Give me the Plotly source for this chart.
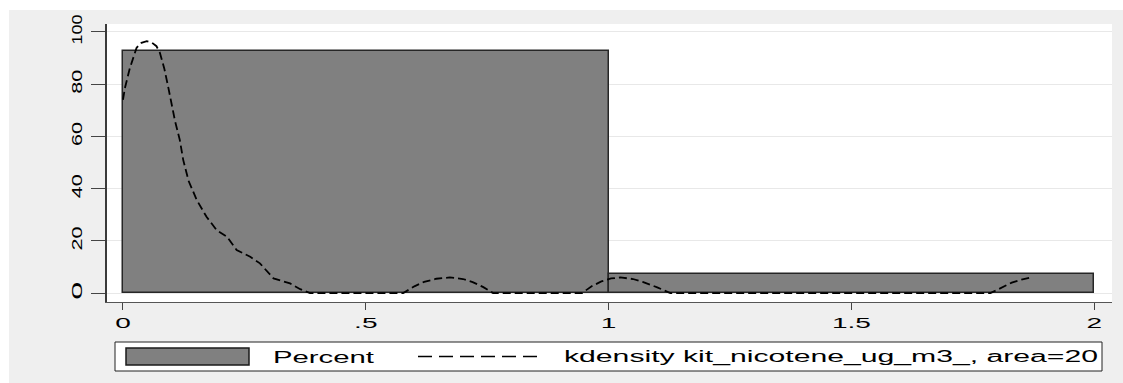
import json
import plotly.graph_objects as go

# ---- data ----
bin_edges = [0, 1, 2]
percent = [92.6, 7.4]

kde_x = [0.0, 0.004, 0.014, 0.028, 0.038, 0.049, 0.06, 0.069, 0.076, 0.085, 0.093, 0.1, 0.107,
         0.117, 0.124, 0.135, 0.152, 0.172, 0.193, 0.214, 0.234, 0.262, 0.282, 0.31, 0.344,
         0.365, 0.385,
         0.577, 0.6, 0.62, 0.645, 0.673, 0.7, 0.72, 0.742, 0.762,
         0.945, 0.965, 0.985, 1.005, 1.024, 1.05, 1.07, 1.1, 1.127,
         1.786, 1.81, 1.83, 1.85, 1.868]
kde_y = [74, 78.5, 86, 93.9, 95.8, 96.4, 95.8, 94.5, 92, 86, 79, 72.5, 66,
         58.6, 51, 43, 35.6, 29.2, 24.1, 21.6, 16.5, 13.9, 11.4, 5.6, 3.7,
         1.5, 0,
         0, 2.6, 4.3, 5.5, 6.0, 5.4, 4.2, 2.3, 0,
         0, 2.6, 4.5, 5.6, 6.0, 5.4, 4.3, 2.2, 0,
         0, 2.2, 4.0, 5.2, 5.9]

x_tick_vals = [0, 0.5, 1, 1.5, 2]
x_tick_text = ["0", ".5", "1", "1.5", "2"]
y_tick_vals = [0, 20, 40, 60, 80, 100]
y_tick_text = ["0", "20", "40", "60", "80", "100"]

legend_labels = ["Percent", "kdensity kit_nicotene_ug_m3_, area=20"]

# ---- layout geometry (pixels) ----
W, H = 1123, 383
L, R, T, B = 107, 1112, 24, 302
FONT = "Liberation Sans, Arial, sans-serif"


def px2x(px):
    return (px - L) / (R - L)


def py2y(py):
    return (B - py) / (B - T)


bin_centers = [(bin_edges[i] + bin_edges[i + 1]) / 2 for i in range(len(percent))]
bin_widths = [bin_edges[i + 1] - bin_edges[i] for i in range(len(percent))]

fig = go.Figure()
fig.add_trace(go.Bar(
    x=bin_centers, y=percent, width=bin_widths,
    marker=dict(color="#808080", line=dict(color="#262626", width=1.5)),
    name=legend_labels[0], showlegend=False,
))
fig.add_trace(go.Scatter(
    x=kde_x, y=kde_y, mode="lines",
    line=dict(color="black", width=1.8, dash="8px,4px"),
    name=legend_labels[1], showlegend=False,
))

shapes = [
    # white strips outside the graph region
    dict(type="rect", xref="paper", yref="paper", x0=px2x(0), x1=px2x(W), y0=py2y(10), y1=py2y(0),
         fillcolor="white", line=dict(width=0), layer="below"),
    dict(type="rect", xref="paper", yref="paper", x0=px2x(0), x1=px2x(9), y0=py2y(H), y1=py2y(0),
         fillcolor="white", line=dict(width=0), layer="below"),
    # legend box
    dict(type="rect", xref="paper", yref="paper", x0=px2x(115), x1=px2x(1102), y0=py2y(371), y1=py2y(342),
         fillcolor="white", line=dict(color="#222222", width=1)),
    # bar swatch
    dict(type="rect", xref="paper", yref="paper", x0=px2x(126), x1=px2x(249), y0=py2y(365), y1=py2y(348),
         fillcolor="#808080", line=dict(color="#1a1a1a", width=1.5)),
    # dashed line sample
    dict(type="line", xref="paper", yref="paper", x0=px2x(418), x1=px2x(538), y0=py2y(356.5), y1=py2y(356.5),
         line=dict(color="black", width=1.3, dash="14px,7px")),
]

annotations = [
    dict(text=legend_labels[0], xref="paper", yref="paper", x=px2x(272), y=py2y(357),
         xanchor="left", yanchor="middle", align="left", showarrow=False, borderpad=0,
         font=dict(family=FONT, size=16, color="black")),
    dict(text=legend_labels[1], xref="paper", yref="paper", x=px2x(563), y=py2y(357),
         xanchor="left", yanchor="middle", align="left", showarrow=False, borderpad=0,
         font=dict(family=FONT, size=16, color="black")),
]

fig.update_layout(
    width=W, height=H,
    margin=dict(l=L, r=W - R, t=T, b=H - B, pad=0),
    paper_bgcolor="#efefef", plot_bgcolor="white",
    showlegend=False, bargap=0,
    shapes=shapes, annotations=annotations,
    xaxis=dict(range=[-0.0329, 2.0364], tickvals=x_tick_vals, ticktext=x_tick_text,
               showgrid=False, zeroline=False, showline=True, linecolor="#555555", linewidth=1,
               ticks="outside", ticklen=7, tickcolor="#444444", tickwidth=1,
               tickfont=dict(family=FONT, size=14, color="black"), ticklabelstandoff=1),
    yaxis=dict(range=[-3.4, 103.0], tickvals=y_tick_vals, ticktext=y_tick_text,
               showgrid=True, gridcolor="#e8e8e8", gridwidth=1, zeroline=False,
               showline=True, linecolor="#3a3a3a", linewidth=1.5,
               ticks="outside", ticklen=14, tickcolor="#444444", tickwidth=1,
               tickangle=-90, tickfont=dict(family=FONT, size=15, color="black"),
               ticklabelstandoff=3),
)

targets = {legend_labels[0]: 101, legend_labels[1]: 534}
js = """
var gd = document.getElementById('{plot_id}');
var targets = %s;
function stretch(sel, fn) {
  gd.querySelectorAll(sel).forEach(function(t) {
    var w = t.getComputedTextLength();
    var target = fn(t, w);
    if (target) {
      t.setAttribute('textLength', target);
      t.setAttribute('lengthAdjust', 'spacingAndGlyphs');
    }
  });
}
stretch('.xtick text', function(t, w) { return w * 2.0; });
stretch('.ytick text', function(t, w) { return 12 + 6 * t.textContent.length; });
stretch('.annotation-text', function(t, w) { return targets[t.textContent]; });
""" % json.dumps(targets)

fig.write_html("out.html", post_script=js)
